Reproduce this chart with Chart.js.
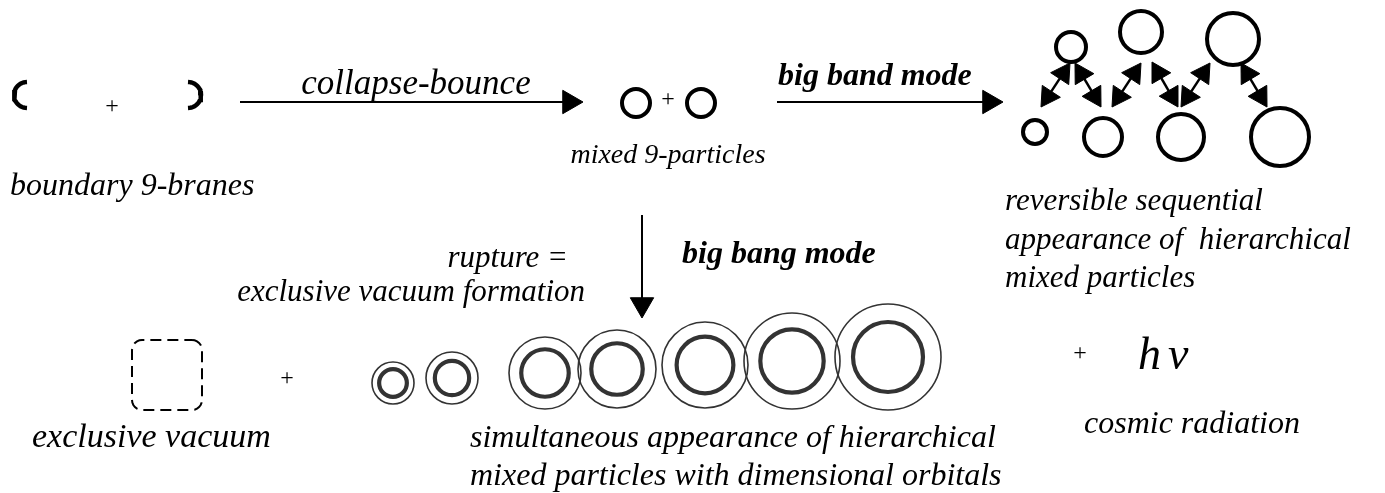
<!DOCTYPE html>
<html><head><meta charset="utf-8">
<script src="https://cdn.jsdelivr.net/npm/chart.js@4.4.1/dist/chart.umd.min.js"></script>
<style>html,body{margin:0;padding:0;background:#fff;overflow:hidden}canvas{display:block}</style>
</head><body>
<canvas id="c" width="1385" height="493"></canvas>
<script>
// ---- diagram data ----
const mixedParticles = [{x:636,y:103,r:14},{x:701,y:103,r:14}];
const sequentialParticles = [
  {x:1071,y:47,r:15},{x:1141,y:32,r:21},{x:1233,y:39,r:26},
  {x:1035,y:132,r:12},{x:1103,y:137,r:19},{x:1181,y:137,r:23},{x:1280,y:137,r:29}
];
const orbitalParticles = [
  {x:393,y:383,r:21},{x:452,y:378,r:26},{x:545,y:373,r:36},{x:617,y:369,r:39},
  {x:705,y:365,r:43},{x:792,y:361,r:48},{x:888,y:357,r:53}
];
const orbitalInnerRatio = 0.66;
const branes = [{cx:27,cy:95,r:13,from:90,to:270},{cx:188,cy:95,r:13,from:-90,to:90}];
const vacuumBox = {cx:167,cy:375,half:35,corner:10};
const mainArrows = [
  {x1:240,y1:102,x2:583,y2:102},
  {x1:777,y1:102,x2:1003,y2:102},
  {x1:642,y1:215,x2:642,y2:318}
];
const doubleArrows = [
  {x1:1041,y1:107,x2:1070,y2:63},{x1:1075,y1:63,x2:1101,y2:107},
  {x1:1112,y1:107,x2:1141,y2:63},{x1:1152,y1:62,x2:1178,y2:107},
  {x1:1181,y1:107,x2:1210,y2:63},{x1:1241,y1:63,x2:1267,y2:107}
];
const it = s => `italic ${s}px "Liberation Serif","DejaVu Serif",serif`;
const bi = s => `italic bold ${s}px "Liberation Serif","DejaVu Serif",serif`;
const rm = s => `${s}px "Liberation Serif","DejaVu Serif",serif`;
const diagramLabels = [
  {text:'boundary 9-branes', x:10, y:195, font:it(32)},
  {text:'collapse-bounce', x:416, y:94, align:'center', font:it(35)},
  {text:'mixed 9-particles', x:668, y:163, align:'center', font:it(28)},
  {text:'big band mode', x:778, y:85, font:bi(32)},
  {text:'reversible sequential', x:1005, y:210, font:it(31)},
  {text:'appearance of  hierarchical', x:1005, y:249, font:it(31)},
  {text:'mixed particles', x:1005, y:287, font:it(31)},
  {text:'rupture =', x:568, y:267, align:'right', font:it(31)},
  {text:'exclusive vacuum formation', x:585, y:301, align:'right', font:it(31)},
  {text:'big bang mode', x:682, y:263, font:bi(32)},
  {text:'exclusive vacuum', x:32, y:447, font:it(34)},
  {text:'simultaneous appearance of hierarchical', x:470, y:447, font:it(32)},
  {text:'mixed particles with dimensional orbitals', x:470, y:485, font:it(32)},
  {text:'cosmic radiation', x:1084, y:433, font:it(32)},
  {text:'h\u03BD', x:1138, y:369, font:it(46), spacing:'7px'},
  {text:'+', x:112, y:113, align:'center', font:rm(24)},
  {text:'+', x:668, y:106, align:'center', font:rm(24)},
  {text:'+', x:287, y:385, align:'center', font:rm(24)},
  {text:'+', x:1080, y:360, align:'center', font:rm(24)}
];

// ---- build datasets from the data ----
function arcPoints(a){
  const pts=[];
  for(let i=0;i<=24;i++){
    const t=(a.from+(a.to-a.from)*i/24)*Math.PI/180;
    pts.push({x:a.cx+a.r*Math.cos(t), y:a.cy-a.r*Math.sin(t)});
  }
  return pts;
}
function roundedBox(b){
  const pts=[], h=b.half, c=b.corner;
  const corners=[[h-c,-(h-c),-90,0],[h-c,h-c,0,90],[-(h-c),h-c,90,180],[-(h-c),-(h-c),180,270]];
  for(const [ox,oy,a0,a1] of corners){
    for(let i=0;i<=6;i++){
      const t=(a0+(a1-a0)*i/6)*Math.PI/180;
      pts.push({x:b.cx+ox+c*Math.cos(t), y:b.cy+oy+c*Math.sin(t)});
    }
  }
  pts.push(pts[0]);
  return pts;
}
const heads=[], shafts=[];
function addArrow(a, R, both, width){
  const dx=a.x2-a.x1, dy=a.y2-a.y1, L=Math.hypot(dx,dy), ux=dx/L, uy=dy/L;
  const rot=Math.atan2(ux,-uy)*180/Math.PI;
  const end={x:a.x2-ux*R, y:a.y2-uy*R, rot:rot, R:R};
  heads.push(end);
  let start={x:a.x1,y:a.y1};
  if(both){
    start={x:a.x1+ux*R, y:a.y1+uy*R, rot:rot+180, R:R};
    heads.push(start);
  }
  shafts.push({type:'line', data:[{x:start.x,y:start.y},{x:end.x,y:end.y}], borderColor:'#000',
    borderWidth:width, pointRadius:0, showLine:true, fill:false, clip:false, order:2});
}
mainArrows.forEach(a=>addArrow(a,13.5,false,2));
doubleArrows.forEach(a=>addArrow(a,12.5,true,2.5));

const datasets = [
  {type:'bubble', data:mixedParticles, borderColor:'#000', backgroundColor:'rgba(0,0,0,0)', borderWidth:4, clip:false},
  {type:'bubble', data:sequentialParticles, borderColor:'#000', backgroundColor:'rgba(0,0,0,0)', borderWidth:4, clip:false},
  {type:'bubble', data:orbitalParticles, borderColor:'#333', backgroundColor:'rgba(0,0,0,0)', borderWidth:1.6, clip:false},
  {type:'bubble', data:orbitalParticles.map(p=>({x:p.x,y:p.y,r:p.r*orbitalInnerRatio})), borderColor:'#333', backgroundColor:'rgba(0,0,0,0)', borderWidth:4.2, clip:false},
  ...branes.map(b=>({type:'line', data:arcPoints(b), borderColor:'#000', borderWidth:4.5, pointRadius:0, showLine:true, fill:false, clip:false, borderCapStyle:'butt'})),
  {type:'line', data:roundedBox(vacuumBox), borderColor:'#000', borderWidth:2, borderDash:[11,6], pointRadius:0, showLine:true, fill:false, clip:false},
  ...shafts,
  {type:'scatter', data:heads, pointStyle:'triangle', pointRadius:heads.map(h=>h.R), pointRotation:heads.map(h=>h.rot),
    backgroundColor:'#000', borderColor:'#000', borderWidth:1, clip:false, order:1}
];

const textPlugin = {
  id:'diagramText',
  afterDatasetsDraw(chart){
    const {ctx, scales:{x, y}} = chart;
    ctx.save();
    ctx.fillStyle='#000';
    ctx.textBaseline='alphabetic';
    for(const t of diagramLabels){
      ctx.font=t.font;
      ctx.textAlign=t.align||'left';
      if('letterSpacing' in ctx) ctx.letterSpacing=t.spacing||'0px';
      ctx.fillText(t.text, x.getPixelForValue(t.x), y.getPixelForValue(t.y));
    }
    ctx.restore();
  }
};

new Chart(document.getElementById('c'), {
  type:'scatter',
  data:{datasets},
  options:{
    responsive:false, animation:false, devicePixelRatio:1, events:[],
    layout:{padding:0, autoPadding:false},
    plugins:{legend:{display:false}, tooltip:{enabled:false}},
    scales:{
      x:{type:'linear', min:0, max:1385, display:false},
      y:{type:'linear', min:0, max:493, reverse:true, display:false}
    },
    elements:{point:{hoverRadius:0, hitRadius:0}}
  },
  plugins:[textPlugin]
});
</script>
</body></html>
